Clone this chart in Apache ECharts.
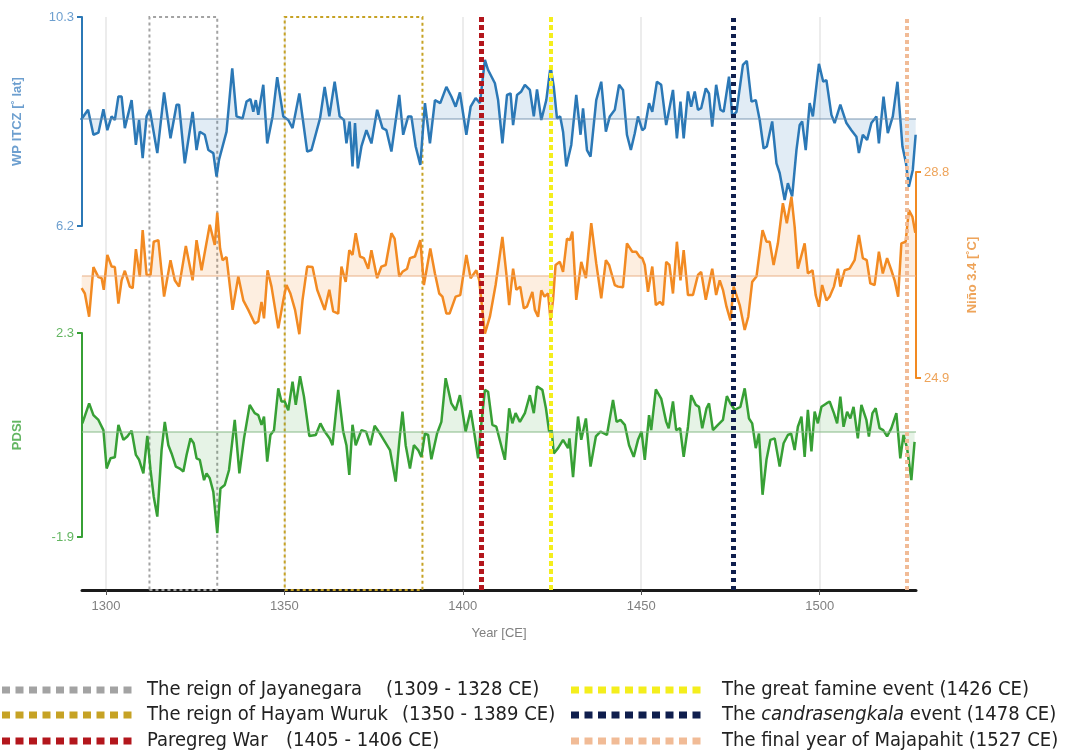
<!DOCTYPE html>
<html><head><meta charset="utf-8">
<script src="https://cdn.jsdelivr.net/npm/echarts@6/dist/echarts.min.js"></script>
<style>html,body{margin:0;padding:0;background:#fff}#c{width:1069px;height:752px}</style>
</head><body><div id="c"></div>
<script>
// ---------- DATA ----------
const itczYears = [1293.0,1295.0,1296.5,1297.9,1299.3,1300.4,1301.6,1302.5,1303.5,1304.4,1305.3,1307.2,1308.4,1309.3,1310.3,1311.4,1312.3,1314.4,1316.3,1318.1,1319.8,1320.5,1322.1,1324.3,1325.4,1326.3,1327.7,1328.7,1330.1,1331.0,1331.7,1333.8,1335.4,1336.6,1338.3,1339.4,1340.5,1341.3,1342.0,1342.7,1344.1,1345.2,1346.7,1348.0,1349.7,1351.1,1352.3,1354.2,1356.4,1357.6,1360.0,1361.3,1362.6,1364.1,1365.5,1366.7,1367.4,1368.3,1369.1,1369.8,1370.6,1371.6,1373.0,1374.4,1376.0,1377.5,1378.6,1380.0,1382.2,1383.3,1384.7,1385.6,1386.8,1388.1,1389.4,1390.8,1392.2,1393.7,1395.4,1396.8,1398.0,1399.2,1401.0,1402.2,1403.6,1404.8,1406.2,1407.1,1409.0,1409.9,1411.1,1412.4,1413.4,1414.1,1415.2,1416.4,1417.4,1418.8,1419.9,1420.8,1422.0,1423.4,1424.6,1425.5,1426.4,1427.3,1428.1,1429.0,1430.4,1431.8,1433.0,1433.7,1434.8,1435.8,1437.4,1438.8,1440.1,1441.2,1442.6,1443.8,1444.9,1446.0,1447.1,1448.2,1449.1,1450.3,1451.0,1452.2,1453.1,1454.4,1455.6,1457.0,1458.9,1460.0,1461.0,1461.9,1463.1,1464.0,1465.0,1465.9,1466.8,1468.1,1469.0,1469.9,1471.0,1472.2,1473.1,1474.6,1475.5,1476.7,1478.5,1479.6,1480.9,1482.1,1483.2,1484.3,1485.2,1486.7,1487.9,1488.8,1490.2,1491.1,1492.3,1493.5,1494.4,1495.1,1496.1,1497.2,1498.1,1499.8,1501.0,1501.9,1503.3,1504.2,1505.8,1507.5,1508.9,1510.3,1511.0,1512.1,1513.3,1514.5,1515.9,1516.6,1517.9,1519.1,1520.5,1521.8,1523.2,1524.2,1525.0,1526.1,1526.9];
const itczValues = [8.28,8.48,7.99,8.03,8.49,8.08,8.35,8.28,8.74,8.74,8.12,8.67,7.79,8.28,7.53,8.35,8.48,7.63,8.82,7.92,8.58,8.58,7.43,8.44,7.69,8.05,7.99,7.69,7.63,7.17,7.50,8.05,9.29,8.35,8.31,8.64,8.69,8.44,8.67,8.38,8.97,7.82,8.35,9.12,8.35,8.28,8.12,8.80,7.66,7.69,8.31,8.93,8.35,9.03,8.35,8.28,7.82,8.25,7.37,8.22,7.33,7.76,8.08,7.82,8.48,8.12,8.08,7.66,8.77,7.99,8.35,8.35,7.76,7.40,8.61,7.82,8.67,8.61,8.93,8.74,8.54,8.82,7.99,8.54,8.71,8.61,9.46,9.26,9.00,8.67,7.82,8.77,8.80,8.18,8.77,8.84,8.97,8.87,8.35,8.88,8.28,8.67,9.33,8.93,8.31,8.35,8.05,7.37,7.79,8.77,7.99,8.51,7.69,7.56,8.67,9.03,8.05,8.35,8.48,8.97,8.87,7.99,7.69,8.02,8.35,8.08,8.12,8.61,8.44,9.03,8.97,8.18,8.87,7.92,8.64,7.92,8.84,8.54,8.84,8.48,8.51,8.90,8.80,8.15,8.97,8.48,8.44,9.13,8.35,8.44,9.36,9.44,8.64,8.67,8.28,7.72,7.76,8.25,7.43,7.24,6.71,7.04,6.78,7.69,8.18,8.25,7.69,8.61,8.35,9.38,9.03,9.06,8.38,8.22,8.58,8.22,8.08,7.95,7.63,7.99,7.89,8.22,8.35,7.82,8.74,8.02,8.35,9.03,7.76,7.43,6.97,7.30,7.99];

const ninoYears = [1293.2,1294.1,1295.3,1296.5,1297.9,1298.8,1299.4,1300.4,1301.6,1302.5,1303.5,1304.4,1305.3,1306.7,1307.5,1308.4,1309.5,1310.3,1311.4,1312.5,1313.4,1314.7,1316.3,1318.1,1319.3,1320.5,1322.4,1324.3,1325.4,1326.8,1329.1,1330.5,1331.2,1332.0,1332.7,1333.8,1335.5,1337.1,1338.5,1339.9,1341.7,1342.7,1343.6,1344.3,1345.3,1346.4,1348.3,1349.7,1350.6,1351.7,1353.0,1354.2,1355.1,1356.4,1357.9,1359.2,1361.3,1362.6,1363.7,1365.1,1366.0,1367.2,1368.2,1369.1,1370.0,1371.2,1372.3,1373.5,1374.4,1376.0,1377.2,1378.4,1380.0,1380.9,1382.2,1383.1,1384.4,1385.2,1386.6,1388.1,1389.1,1390.9,1392.2,1393.4,1394.3,1395.4,1396.3,1398.0,1399.3,1401.0,1402.2,1403.8,1404.6,1406.2,1407.6,1409.2,1411.1,1412.2,1413.0,1414.1,1415.0,1416.1,1417.1,1418.0,1419.5,1420.2,1421.1,1422.0,1422.9,1423.9,1424.6,1425.3,1426.0,1427.2,1428.1,1429.2,1430.0,1430.7,1431.8,1433.2,1434.5,1436.0,1437.4,1438.8,1440.1,1441.0,1442.6,1443.5,1444.9,1446.0,1447.5,1448.6,1449.6,1450.3,1451.0,1451.9,1453.1,1454.1,1455.2,1456.1,1457.0,1457.9,1458.9,1460.0,1461.0,1461.9,1463.1,1464.5,1465.9,1466.8,1468.1,1469.9,1471.0,1472.0,1472.9,1473.9,1475.0,1475.9,1477.6,1479.0,1480.0,1481.1,1482.3,1484.0,1485.1,1486.0,1487.1,1488.3,1489.7,1490.8,1492.1,1493.0,1493.9,1495.8,1496.7,1498.0,1498.9,1499.8,1500.7,1501.9,1502.8,1504.0,1505.1,1505.8,1507.0,1508.4,1509.8,1511.0,1512.1,1513.2,1514.2,1515.4,1516.6,1517.7,1518.9,1520.1,1521.0,1522.0,1522.9,1524.1,1525.0,1526.0,1526.8];
const ninoValues = [26.60,26.50,26.06,27.00,26.81,26.79,26.57,27.23,27.01,27.00,26.31,26.75,26.93,26.63,26.60,27.34,26.82,27.70,26.85,26.85,27.48,27.51,26.44,27.13,26.75,26.63,27.40,26.75,27.51,26.94,27.80,27.42,28.03,27.35,27.13,27.19,26.19,26.82,26.37,26.19,25.93,25.97,26.34,26.03,26.94,26.63,25.84,26.37,26.66,26.50,26.19,25.73,26.38,27.01,27.00,26.57,26.19,26.57,26.16,26.12,27.01,26.72,27.32,27.23,27.64,27.20,27.17,26.97,27.32,26.79,27.01,27.04,27.64,27.54,26.82,26.91,26.97,27.17,27.20,27.51,26.66,27.35,26.88,26.50,26.44,26.12,26.12,26.44,26.47,27.23,26.79,26.94,26.75,25.74,26.06,26.66,27.57,26.88,26.28,26.97,26.57,26.63,26.22,26.25,26.53,26.19,26.06,26.56,26.44,26.50,25.99,26.38,27.04,27.10,26.91,27.54,27.51,27.67,26.38,27.10,26.79,27.83,27.07,26.41,27.13,27.04,26.66,26.63,26.62,27.45,27.29,27.29,27.19,27.17,27.04,26.53,27.01,26.28,26.34,26.28,27.10,27.04,26.50,27.48,26.75,27.32,26.47,26.47,26.85,26.91,26.38,26.97,26.47,26.75,26.57,26.25,25.99,26.63,26.28,25.81,26.06,26.72,26.82,27.70,27.48,27.48,27.04,27.45,28.21,27.83,28.33,27.76,26.97,27.45,26.88,26.94,26.47,26.25,26.66,26.37,26.44,26.63,26.97,26.63,26.94,26.97,27.13,27.61,27.17,27.13,26.69,26.66,27.29,26.88,27.17,26.94,26.75,26.44,27.45,27.48,28.08,27.95,27.65];

const pdsiYears = [1293.4,1295.3,1296.5,1297.9,1299.3,1300.2,1301.3,1302.5,1303.5,1304.9,1306.0,1307.2,1308.4,1309.3,1310.5,1311.6,1312.5,1313.4,1314.4,1315.6,1316.5,1317.5,1318.4,1319.6,1320.7,1321.7,1322.6,1323.7,1324.6,1325.4,1326.3,1327.5,1328.2,1329.1,1330.1,1331.2,1332.1,1333.3,1334.5,1336.1,1337.4,1338.7,1340.3,1341.7,1342.7,1343.6,1344.3,1345.2,1346.1,1347.1,1348.3,1349.2,1350.1,1351.1,1352.3,1353.2,1354.4,1355.5,1357.0,1358.8,1360.1,1361.3,1362.7,1363.5,1365.1,1366.5,1367.4,1368.2,1369.1,1370.0,1371.6,1372.9,1374.1,1375.3,1376.8,1378.2,1379.6,1381.2,1382.2,1383.1,1384.0,1385.2,1386.3,1387.5,1388.4,1389.4,1390.3,1391.2,1392.8,1394.0,1395.2,1396.8,1398.0,1399.2,1400.8,1402.2,1403.1,1404.3,1405.2,1406.2,1407.1,1408.3,1409.4,1410.6,1411.8,1413.0,1413.9,1414.8,1416.0,1417.4,1418.8,1419.9,1420.8,1422.3,1423.3,1424.2,1424.9,1425.5,1426.7,1428.1,1429.5,1429.9,1430.9,1432.3,1433.2,1434.5,1435.8,1437.3,1438.6,1440.4,1442.1,1443.1,1444.2,1445.4,1446.6,1447.9,1449.1,1450.1,1451.0,1452.2,1452.8,1454.1,1455.6,1457.0,1457.7,1458.9,1459.8,1460.9,1461.9,1463.1,1464.0,1465.3,1466.2,1467.1,1468.3,1469.0,1470.1,1471.5,1472.9,1474.0,1475.0,1476.2,1477.8,1479.0,1480.2,1481.1,1482.1,1483.0,1484.0,1485.1,1486.2,1487.4,1488.8,1489.9,1491.1,1492.0,1493.0,1493.9,1494.9,1495.8,1496.7,1497.7,1498.6,1499.5,1500.5,1501.9,1502.8,1504.0,1504.9,1505.8,1506.7,1507.7,1508.6,1509.5,1510.7,1511.7,1513.1,1513.8,1514.8,1515.7,1516.8,1517.8,1518.9,1520.1,1521.5,1522.6,1523.5,1524.5,1525.7,1526.6];
const pdsiValues = [0.44,0.85,0.61,0.51,0.30,-0.49,-0.28,-0.26,0.41,0.10,0.17,0.29,-0.21,-0.31,-0.59,0.18,-0.52,-1.07,-1.48,-0.11,0.47,-0.01,-0.18,-0.45,-0.49,-0.55,-0.21,0.13,0.03,-0.28,-0.31,-0.73,-0.59,-0.69,-0.97,-1.82,-0.90,-0.83,-0.52,0.51,-0.59,0.13,0.82,0.65,0.61,0.41,0.58,-0.35,0.20,0.30,1.16,0.89,0.89,0.71,1.30,0.82,1.41,0.99,0.18,0.20,0.44,0.27,0.13,-0.01,1.13,0.27,-0.01,-0.62,0.41,-0.01,0.30,0.27,-0.01,0.39,0.23,0.06,-0.11,-0.76,0.06,0.68,-0.01,-0.49,-0.01,-0.11,-0.25,0.23,0.20,-0.30,0.23,0.47,1.37,0.85,0.71,1.02,0.27,0.71,0.30,-0.28,0.44,1.13,1.09,0.41,0.37,0.03,-0.31,0.75,0.44,0.65,0.47,0.65,1.02,0.65,1.20,1.13,0.75,0.27,0.30,-0.18,-0.07,0.10,-0.07,0.13,-0.67,0.58,0.10,0.54,-0.45,0.17,0.27,0.20,0.92,0.47,0.51,0.41,-0.01,-0.25,0.10,0.27,-0.31,0.61,0.30,1.14,0.95,0.47,0.34,0.89,0.30,0.34,-0.25,0.37,1.02,0.82,0.78,0.34,0.75,0.85,0.30,0.41,0.51,1.00,0.85,0.72,0.78,1.16,0.54,0.44,-0.07,0.23,-1.03,-0.31,0.10,0.13,-0.45,0.03,0.20,0.23,-0.11,0.37,0.58,-0.25,0.72,-0.14,0.68,0.44,0.78,0.85,0.89,0.65,0.44,0.99,0.37,0.68,0.54,0.78,0.13,0.82,0.51,0.17,0.65,0.75,0.34,0.30,0.17,0.34,0.65,-0.28,0.20,-0.07,-0.73,0.06];

const baselines = { itcz: 8.3, nino: 26.83, pdsi: 0.26 };
const xTicks = [1300, 1350, 1400, 1450, 1500];
const itczTicks = [6.2, 10.3];
const ninoTicks = [24.9, 28.8];
const pdsiTicks = [-1.9, 2.3];

const boxNames = ['Jayanegara', 'Hayam Wuruk'];
const boxStart = [1312.2, 1350.1];
const boxEnd = [1331.2, 1388.7];
const lineNames = ['Paregreg', 'Famine', 'Candrasengkala', 'Final'];
const lineYears = [1405.3, 1424.6, 1475.9, 1524.3];

const legendLeft = [
  ['The reign of Jayanegara', '(1309 - 1328 CE)'],
  ['The reign of Hayam Wuruk', '(1350 - 1389 CE)'],
  ['Paregreg War', '(1405 - 1406 CE)']
];
const legendRight = [
  ['The great famine event (1426 CE)'],
  ['The ', 'candrasengkala', ' event (1478 CE)'],
  ['The final year of Majapahit (1527 CE)']
];

// ---------- STYLE ----------
const C = {
  blue: '#2b78b6', blueLab: '#6d9fcf', blueFill: 'rgba(43,120,182,0.2)',
  orange: '#f28a22', orangeLab: '#eea45a', orangeFill: 'rgba(242,138,34,0.2)',
  green: '#37a035', greenLab: '#64b662', greenFill: 'rgba(55,160,53,0.18)',
  gray: '#a3a3a3', gold: '#c6a224', red: '#b3161c', yellow: '#f4ee1c', navy: '#0f1e4d', peach: '#f1bb96'
};
const XMIN = 1293.3, XMAX = 1527;
const LEFT = 82, RIGHT = 153;
const pair = (xs, ys) => xs.map((x, i) => [x, ys[i]]);
const base = (v, col) => ({
  silent: true, symbol: ['none', 'none'], label: { show: false },
  lineStyle: { color: col, width: 1.5, type: 'solid' },
  data: [{ yAxis: v }]
});

const hiddenX = (g) => ({ type: 'value', gridIndex: g, min: XMIN, max: XMAX, show: false });
const sideY = (g, lo, hi, ticks, col, lab, name, pos, gap) => ({
  type: 'value', gridIndex: g, min: lo, max: hi, position: pos,
  axisLine: { show: true, lineStyle: { color: col, width: 2 } },
  axisTick: { show: true, customValues: ticks, length: 5, lineStyle: { color: col, width: 2 } },
  axisLabel: { customValues: ticks, color: lab, fontSize: 13, margin: 8, fontFamily: 'Liberation Sans, Arial, sans-serif', formatter: v => v.toFixed(1) },
  splitLine: { show: false },
  name: name, nameLocation: 'middle', nameGap: gap, nameRotate: 90,
  nameTextStyle: { color: lab, fontSize: 13, fontWeight: 'bold', fontFamily: 'Liberation Sans, Arial, sans-serif' }
});

const legendFont = '"Liberation Sans Narrow", "DejaVu Sans Condensed", "Roboto Condensed", sans-serif';
const LFS = 20;
const graphics = [];
const leftCols = [C.gray, C.gold, C.red];
const rightCols = [C.yellow, C.navy, C.peach];
const rowY = [690, 715, 741];
const leftSecondX = [386, 402, 286];
for (let i = 0; i < 3; i++) {
  graphics.push({ type: 'line', shape: { x1: 2, y1: rowY[i], x2: 136, y2: rowY[i] }, style: { stroke: leftCols[i], lineWidth: 7, lineDash: [8, 5.5] } });
  graphics.push({ type: 'text', x: 147, y: rowY[i], style: { text: legendLeft[i][0], fontSize: LFS, fontFamily: legendFont, fill: '#222', verticalAlign: 'middle' } });
  graphics.push({ type: 'text', x: leftSecondX[i], y: rowY[i], style: { text: legendLeft[i][1], fontSize: LFS, fontFamily: legendFont, fill: '#222', verticalAlign: 'middle' } });
  graphics.push({ type: 'line', shape: { x1: 571, y1: rowY[i], x2: 706, y2: rowY[i] }, style: { stroke: rightCols[i], lineWidth: 7, lineDash: [8, 5.5] } });
  const parts = legendRight[i];
  const rich = { a: { fontSize: LFS, fontFamily: legendFont, fill: '#222' }, b: { fontSize: LFS, fontFamily: legendFont, fill: '#222', fontStyle: 'italic' } };
  const txt = parts.length === 3 ? '{a|' + parts[0] + '}{b|' + parts[1] + '}{a|' + parts[2] + '}' : '{a|' + parts[0] + '}';
  graphics.push({ type: 'text', x: 722, y: rowY[i], style: { text: txt, rich: rich, verticalAlign: 'middle', fontSize: LFS, fontFamily: legendFont } });
}

const option = {
  animation: false,
  backgroundColor: '#fff',
  grid: [
    { left: LEFT, right: RIGHT, top: 17, height: 209 },
    { left: LEFT, right: RIGHT, top: 172, height: 206 },
    { left: LEFT, right: RIGHT, top: 333, height: 204 },
    { left: LEFT, right: RIGHT, top: 17, bottom: 162 }
  ],
  xAxis: [
    hiddenX(0), hiddenX(1), hiddenX(2),
    {
      type: 'value', gridIndex: 3, min: XMIN, max: XMAX,
      axisLine: { show: true, lineStyle: { color: '#1a1a1a', width: 3 } },
      axisTick: { show: true, customValues: xTicks, length: 5, lineStyle: { color: '#555', width: 1 } },
      axisLabel: { customValues: xTicks, color: '#808080', fontSize: 13, margin: 10, fontFamily: 'Liberation Sans, Arial, sans-serif', formatter: v => String(Math.round(v)) },
      splitLine: { show: true, lineStyle: { color: '#e6e6e6', width: 1.5 } },
      name: 'Year [CE]', nameLocation: 'middle', nameGap: 37,
      nameTextStyle: { color: '#808080', fontSize: 13, fontFamily: 'Liberation Sans, Arial, sans-serif' }
    }
  ],
  yAxis: [
    sideY(0, 6.2, 10.3, itczTicks, C.blue, C.blueLab, 'WP ITCZ [˚ lat]', 'left', 58),
    sideY(1, 24.9, 28.8, ninoTicks, C.orange, C.orangeLab, 'Niño 3.4 [˚C]', 'right', 50),
    sideY(2, -1.9, 2.3, pdsiTicks, C.green, C.greenLab, 'PDSI', 'left', 58),
    { type: 'value', gridIndex: 3, min: 0, max: 1, show: false }
  ],
  series: [
    {
      type: 'line', xAxisIndex: 3, yAxisIndex: 3, data: [], z: 1, silent: true,
      markArea: {
        silent: true,
        data: boxStart.map((s, i) => [
          { xAxis: s, itemStyle: { color: 'rgba(0,0,0,0)', borderColor: i === 0 ? C.gray : C.gold, borderWidth: 2, borderType: [3, 3] } },
          { xAxis: boxEnd[i] }
        ])
      }
    },
    {
      name: 'WP ITCZ', type: 'line', xAxisIndex: 0, yAxisIndex: 0, data: pair(itczYears, itczValues),
      showSymbol: false, lineStyle: { color: C.blue, width: 2.5 }, itemStyle: { color: C.blue },
      areaStyle: { origin: baselines.itcz, color: C.blueFill }, markLine: base(baselines.itcz, 'rgba(110,140,170,0.6)'), z: 3
    },
    {
      name: 'Niño 3.4', type: 'line', xAxisIndex: 1, yAxisIndex: 1, data: pair(ninoYears, ninoValues),
      showSymbol: false, lineStyle: { color: C.orange, width: 2.5 }, itemStyle: { color: C.orange },
      areaStyle: { origin: baselines.nino, color: C.orangeFill }, markLine: base(baselines.nino, 'rgba(235,180,140,0.7)'), z: 3
    },
    {
      name: 'PDSI', type: 'line', xAxisIndex: 2, yAxisIndex: 2, data: pair(pdsiYears, pdsiValues),
      showSymbol: false, lineStyle: { color: C.green, width: 2.5 }, itemStyle: { color: C.green },
      areaStyle: { origin: baselines.pdsi, color: C.greenFill }, markLine: base(baselines.pdsi, 'rgba(140,190,140,0.7)'), z: 3
    },
    {
      type: 'line', xAxisIndex: 3, yAxisIndex: 3, data: [], z: 5, silent: true,
      markLine: {
        silent: true, symbol: ['none', 'none'], label: { show: false },
        data: [
          { xAxis: lineYears[0], lineStyle: { color: C.red, width: 5, type: [5, 3] } },
          { xAxis: lineYears[1], lineStyle: { color: C.yellow, width: 4, type: [5, 3] } },
          { xAxis: lineYears[2], lineStyle: { color: C.navy, width: 5, type: [4, 4] } },
          { xAxis: lineYears[3], lineStyle: { color: C.peach, width: 4, type: [4, 3] } }
        ]
      }
    }
  ],
  graphic: graphics
};
const chart = echarts.init(document.getElementById('c'), null, { renderer: 'canvas' });
chart.setOption(option);
</script>
</body></html>
